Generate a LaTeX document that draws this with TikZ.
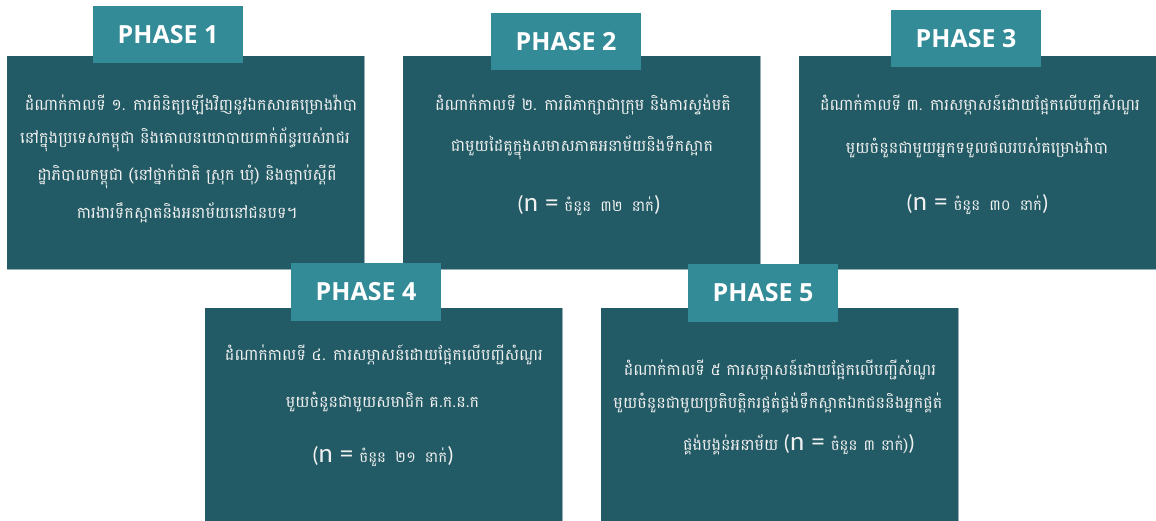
\documentclass[tikz,border=0pt]{standalone}
\usepackage{fontspec}
\newfontfamily\kh[Script=Khmer]{Battambang}
\newfontfamily\hdfont{Open Sans}
\newfontfamily\nfont{Carlito}
\definecolor{boxdark}{RGB}{34,91,101}
\definecolor{headteal}{RGB}{51,139,152}
\definecolor{edge}{RGB}{150,175,180}
\definecolor{txt}{RGB}{240,240,240}
\newcommand{\khl}[1]{{\kh\fontsize{16}{18}\selectfont #1}}
\newcommand{\khs}[1]{{\kh\fontsize{15}{17}\selectfont #1}}
\newcommand{\wsp}{\hspace{9pt}}
\newcommand{\nbig}{{\nfont\fontsize{27}{27}\selectfont n\hspace{7pt}=}\hspace{6pt}}
\newcommand{\pbig}[1]{{\nfont\fontsize{22}{22}\selectfont #1}}
\begin{document}
\begin{tikzpicture}[x=1pt,y=-1pt,
  panel/.style={fill=boxdark, minimum width=357pt, minimum height=213pt, inner sep=0pt, outer sep=0pt},
  head/.style={fill=headteal, minimum width=150pt, minimum height=57pt, inner sep=0pt, text=white, font=\hdfont\bfseries\fontsize{25}{25}\selectfont},
  line/.style={text=txt, inner sep=0pt, anchor=center}]
\useasboundingbox (0,0) rectangle (1156,521);
% panels
\node[panel] (b1) at (185.5,162.5) {};
\node[panel] (b2) at (581.5,162.5) {};
\node[panel] (b3) at (977.5,162.5) {};
\node[panel] (b4) at (383.5,414.5) {};
\node[panel] (b5) at (779.5,414.5) {};
\foreach \b in {b1,b2,b3,b4,b5}{
  \draw[edge, line width=0.8pt] (\b.north east) -- (\b.south east) -- (\b.south west);
}
% headers
\node[head] (h1) at (168,34.5) {PHASE 1};
\node[head] (h2) at (566,42) {PHASE 2};
\node[head] (h3) at (966,38.5) {PHASE 3};
\node[head] (h4) at (366,292) {PHASE 4};
\node[head] (h5) at (763,293) {PHASE 5};
% box 1
\node[line] (t11) at (191,105) {\khl{ដំណាក់កាលទី ១. ការពិនិត្យឡើងវិញនូវឯកសារគម្រោងវ៉ាបា}};
\node[line] (t12) at (185,140) {\khl{នៅក្នុងប្រទេសកម្ពុជា និងគោលនយោបាយពាក់ព័ន្ធរបស់រាជរ}};
\node[line] (t13) at (187,177) {\khl{ដ្ឋាភិបាលកម្ពុជា (នៅថ្នាក់ជាតិ ស្រុក ឃុំ) និងច្បាប់ស្តីពី}};
\node[line] (t14) at (187,213) {\khl{ការងារទឹកស្អាតនិងអនាម័យនៅជនបទ។}};
% box 2
\node[line] (t21) at (583,105) {\khl{ដំណាក់កាលទី ២. ការពិភាក្សាជាក្រុម និងការស្ទង់មតិ}};
\node[line] (t22) at (582,148) {\khl{ជាមួយដៃគូក្នុងសមាសភាគអនាម័យនិងទឹកស្អាត}};
\node[line] (t23) at (589,206) {\pbig{(}\nbig\khs{ចំនួន\wsp ៣២\wsp នាក់}\pbig{)}};
% box 3
\node[line] (t31) at (980,105) {\khl{ដំណាក់កាលទី ៣. ការសម្ភាសន៍ដោយផ្អែកលើបញ្ជីសំណួរ}};
\node[line] (t32) at (977,148) {\khl{មួយចំនួនជាមួយអ្នកទទួលផលរបស់គម្រោងវ៉ាបា}};
\node[line] (t33) at (977.5,205) {\pbig{(}\nbig\khs{ចំនួន\wsp ៣០\wsp នាក់}\pbig{)}};
% box 4
\node[line] (t41) at (384,355) {\khl{ដំណាក់កាលទី ៤. ការសម្ភាសន៍ដោយផ្អែកលើបញ្ជីសំណួរ}};
\node[line] (t42) at (382.5,402) {\khl{មួយចំនួនជាមួយសមាជិក គ.ក.ន.ក}};
\node[line] (t43) at (383,457) {\pbig{(}\nbig\khs{ចំនួន\wsp ២១\wsp នាក់}\pbig{)}};
% box 5
\node[line] (t51) at (780,370) {\khl{ដំណាក់កាលទី ៥ ការសម្ភាសន៍ដោយផ្អែកលើបញ្ជីសំណួរ}};
\node[line] (t52) at (778,403) {\khl{មួយចំនួនជាមួយប្រតិបត្តិករផ្គត់ផ្គង់ទឹកស្អាតឯកជននិងអ្នកផ្គត់}};
\node[line] (t53) at (799,445) {\khl{ផ្គង់បង្គន់អនាម័យ}\hspace{5pt}\pbig{(}\nbig\khs{ចំនួន\hspace{6pt}៣\hspace{6pt}នាក់)}\pbig{)}};
\end{tikzpicture}
\end{document}
